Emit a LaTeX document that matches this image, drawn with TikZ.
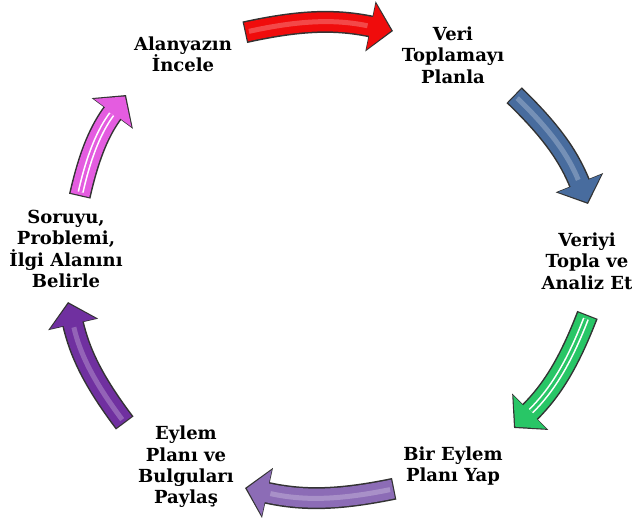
\documentclass[tikz,border=0pt]{standalone}
\usepackage{fontspec}
\setmainfont{DejaVu Serif}
\usepackage{tikz}
\usetikzlibrary{arrows.meta, calc, positioning}
\definecolor{arrRed}{RGB}{240,12,12}
\definecolor{arrBlue}{RGB}{72,108,158}
\definecolor{arrGreen}{RGB}{40,198,102}
\definecolor{arrLav}{RGB}{140,108,182}
\definecolor{arrPurple}{RGB}{112,48,160}
\definecolor{arrPink}{RGB}{228,92,224}

\begin{document}
\begin{tikzpicture}[x=1pt, y=-1pt,
    lbl/.style={align=center, font=\bfseries\fontsize{18}{21.3}\selectfont, inner sep=0pt},
    rim/.style={draw=black!80, line width=22pt, shorten <=-1.2pt, -{Triangle[width=50pt,length=23pt]}},
    body/.style={draw=#1, line width=19pt, shorten >=1.8pt, -{Triangle[width=45.5pt,length=20.5pt]}},
    gloss/.style={draw=white, opacity=.25, line width=5pt, shorten <=3pt, shorten >=26pt},
    stripes/.style={draw=white, line width=1.6pt, double=#1, double distance=3pt, shorten <=3pt, shorten >=24pt}]
    \useasboundingbox (0,0) rectangle (632,517);

    % Schritte
    \node[lbl] (lit)   at (183,54)  {Alanyazın\\İncele};
    \node[lbl] (plan)  at (453,55)  {Veri\\Toplamayı\\Planla};
    \node[lbl] (data)  at (587,261) {Veriyi\\Topla ve\\Analiz Et};
    \node[lbl] (act)   at (453,466) {Bir Eylem\\Planı Yap};
    \node[lbl] (share) at (186,467) {Eylem\\Planı ve\\Bulguları\\Paylaş};
    \node[lbl] (ask)   at (66,249)  {Soruyu,\\Problemi,\\İlgi Alanını\\Belirle};

    % Pfeilenden
    \coordinate (r0) at (246,32);  \coordinate (r1) at (393,31);
    \coordinate (b0) at (515,96);  \coordinate (b1) at (588,204);
    \coordinate (g0) at (587,316); \coordinate (g1) at (514,428);
    \coordinate (l0) at (393,489); \coordinate (l1) at (245,488);
    \coordinate (p0) at (124,422); \coordinate (p1) at (68,302);
    \coordinate (k0) at (80,195);  \coordinate (k1) at (126,95);

    % Pfeile
    \foreach \a/\b/\c in {r0/r1/arrRed, b0/b1/arrBlue, g0/g1/arrGreen, l0/l1/arrLav, p0/p1/arrPurple, k0/k1/arrPink} {
        \draw[rim] (\a) to[bend left=12] (\b);
        \draw[body=\c] (\a) to[bend left=12] (\b);
    }
    \foreach \a/\b in {r0/r1, b0/b1, l0/l1, p0/p1}
        \draw[gloss] (\a) to[bend left=12] (\b);
    \foreach \a/\b/\c in {g0/g1/arrGreen, k0/k1/arrPink}
        \draw[stripes=\c] (\a) to[bend left=12] (\b);
\end{tikzpicture}
\end{document}
